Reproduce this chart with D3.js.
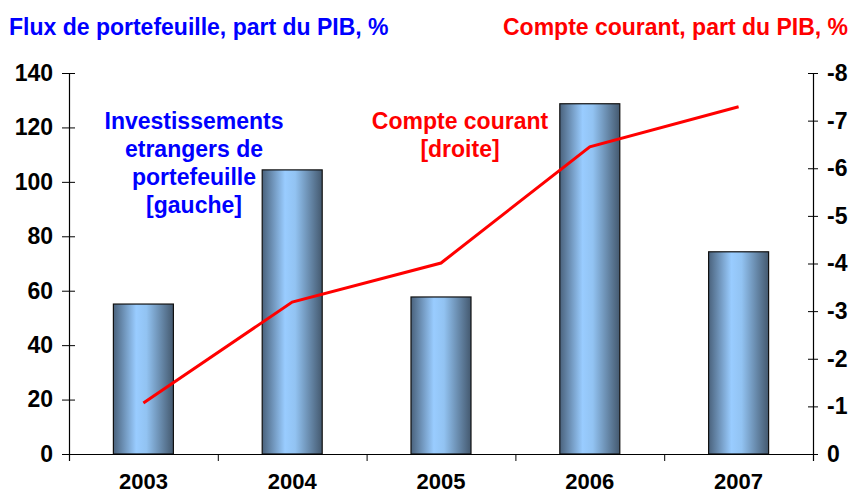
<!DOCTYPE html>
<html>
<head>
<meta charset="utf-8">
<script src="https://cdn.jsdelivr.net/npm/d3@7"></script>
<style>
  body { margin: 0; background: #fff; }
  svg text { font-family: Arial, "Liberation Sans", sans-serif; font-weight: bold; }
</style>
</head>
<body>
<div id="chart"></div>
<script>
// Data
const years = ["2003", "2004", "2005", "2006", "2007"];
const portfolio = [55.1, 104.4, 57.7, 128.7, 74.3];      // left axis
const currentAccount = [-1.07, -3.19, -4.01, -6.45, -7.29]; // right axis
const leftTicks = [0, 20, 40, 60, 80, 100, 120, 140];
const rightTicks = [0, -1, -2, -3, -4, -5, -6, -7, -8];

// SVG dimensions
const w = 851;
const h = 495;
const x0 = 69;
const x1 = 813;
const yBottom = 454;
const yTop = 73;
const fs = "23px";

const svg = d3.select("#chart")
    .append("svg")
    .attr("width", w)
    .attr("height", h);

// Bar gradient
const grad = svg.append("defs")
    .append("linearGradient")
    .attr("id", "barGrad")
    .attr("x1", "0%").attr("x2", "100%")
    .attr("y1", "0%").attr("y2", "0%");
grad.append("stop").attr("offset", "0%").attr("stop-color", "#4a627c");
grad.append("stop").attr("offset", "38%").attr("stop-color", "#99ccff");
grad.append("stop").attr("offset", "55%").attr("stop-color", "#92c3f2");
grad.append("stop").attr("offset", "100%").attr("stop-color", "#44596f");

// Scales
const xScale = d3.scalePoint()
    .domain(years)
    .range([x0, x1])
    .padding(0.5);

const yLeft = d3.scaleLinear()
    .domain([0, 140])
    .range([yBottom, yTop]);

const yRight = d3.scaleLinear()
    .domain([0, -8])
    .range([yBottom, yTop]);

// Bars
const barW = 60;
svg.selectAll("rect.bar")
    .data(years)
    .enter()
    .append("rect")
    .attr("class", "bar")
    .attr("x", d => xScale(d) - barW / 2)
    .attr("y", (d, i) => yLeft(portfolio[i]))
    .attr("width", barW)
    .attr("height", (d, i) => yBottom - yLeft(portfolio[i]))
    .attr("fill", "url(#barGrad)")
    .attr("stroke", "#111")
    .attr("stroke-width", 1.2);

// Axes
const leftAxis = d3.axisLeft(yLeft)
    .tickValues(leftTicks)
    .tickSizeInner(7)
    .tickSizeOuter(0)
    .tickPadding(9);

const rightAxis = d3.axisRight(yRight)
    .tickValues(rightTicks)
    .tickFormat(d => String(d))
    .tickSizeInner(5)
    .tickSizeOuter(0)
    .tickPadding(9);

const gl = svg.append("g")
    .attr("transform", "translate(" + x0 + ",0)")
    .call(leftAxis);
gl.selectAll(".tick line").attr("x2", 6).attr("x1", -7);

const gr = svg.append("g")
    .attr("transform", "translate(" + x1 + ",0)")
    .call(rightAxis);
gr.selectAll(".tick line").attr("x1", -5).attr("x2", 5);

[gl, gr].forEach(g => {
    g.select(".domain").attr("stroke", "#000").attr("stroke-width", 1.2);
    g.selectAll(".tick line").attr("stroke", "#000");
    g.selectAll(".tick text")
        .attr("fill", "#000")
        .style("font-size", fs)
        .style("font-family", "Arial, 'Liberation Sans', sans-serif")
        .style("font-weight", "bold");
});

// X axis baseline, ticks between categories, labels
const xAxis = d3.axisBottom(d3.scaleLinear().domain([0, years.length]).range([x0, x1]))
    .tickValues(d3.range(0, years.length + 1))
    .tickSize(7)
    .tickFormat("");
const gx = svg.append("g")
    .attr("transform", "translate(0," + yBottom + ")")
    .call(xAxis);
gx.select(".domain").attr("stroke", "#000").attr("stroke-width", 1.2);
gx.selectAll(".tick line").attr("stroke", "#000");

svg.selectAll("text.year")
    .data(years)
    .enter()
    .append("text")
    .attr("class", "year")
    .attr("x", d => xScale(d))
    .attr("y", 489)
    .attr("text-anchor", "middle")
    .style("font-size", "22px")
    .attr("fill", "#000")
    .text(d => d);

// Current account line
svg.append("path")
    .datum(years)
    .attr("fill", "none")
    .attr("stroke", "#ff0000")
    .attr("stroke-width", 3)
    .attr("d", d3.line()
        .x(d => xScale(d))
        .y((d, i) => yRight(currentAccount[i]))
    );

// Titles
svg.append("text")
    .attr("x", 9)
    .attr("y", 35)
    .attr("fill", "#0000ff")
    .style("font-size", fs)
    .text("Flux de portefeuille, part du PIB, %");

svg.append("text")
    .attr("x", 848)
    .attr("y", 35)
    .attr("text-anchor", "end")
    .attr("fill", "#ff0000")
    .style("font-size", fs)
    .text("Compte courant, part du PIB, %");

// Annotations
const blueLabel = ["Investissements", "etrangers de", "portefeuille", "[gauche]"];
svg.selectAll("text.blueLab")
    .data(blueLabel)
    .enter()
    .append("text")
    .attr("class", "blueLab")
    .attr("x", 194)
    .attr("y", (d, i) => 129 + i * 28)
    .attr("text-anchor", "middle")
    .attr("fill", "#0000ff")
    .style("font-size", fs)
    .text(d => d);

const redLabel = ["Compte courant", "[droite]"];
svg.selectAll("text.redLab")
    .data(redLabel)
    .enter()
    .append("text")
    .attr("class", "redLab")
    .attr("x", 460)
    .attr("y", (d, i) => 129 + i * 28)
    .attr("text-anchor", "middle")
    .attr("fill", "#ff0000")
    .style("font-size", fs)
    .text(d => d);
</script>
</body>
</html>
